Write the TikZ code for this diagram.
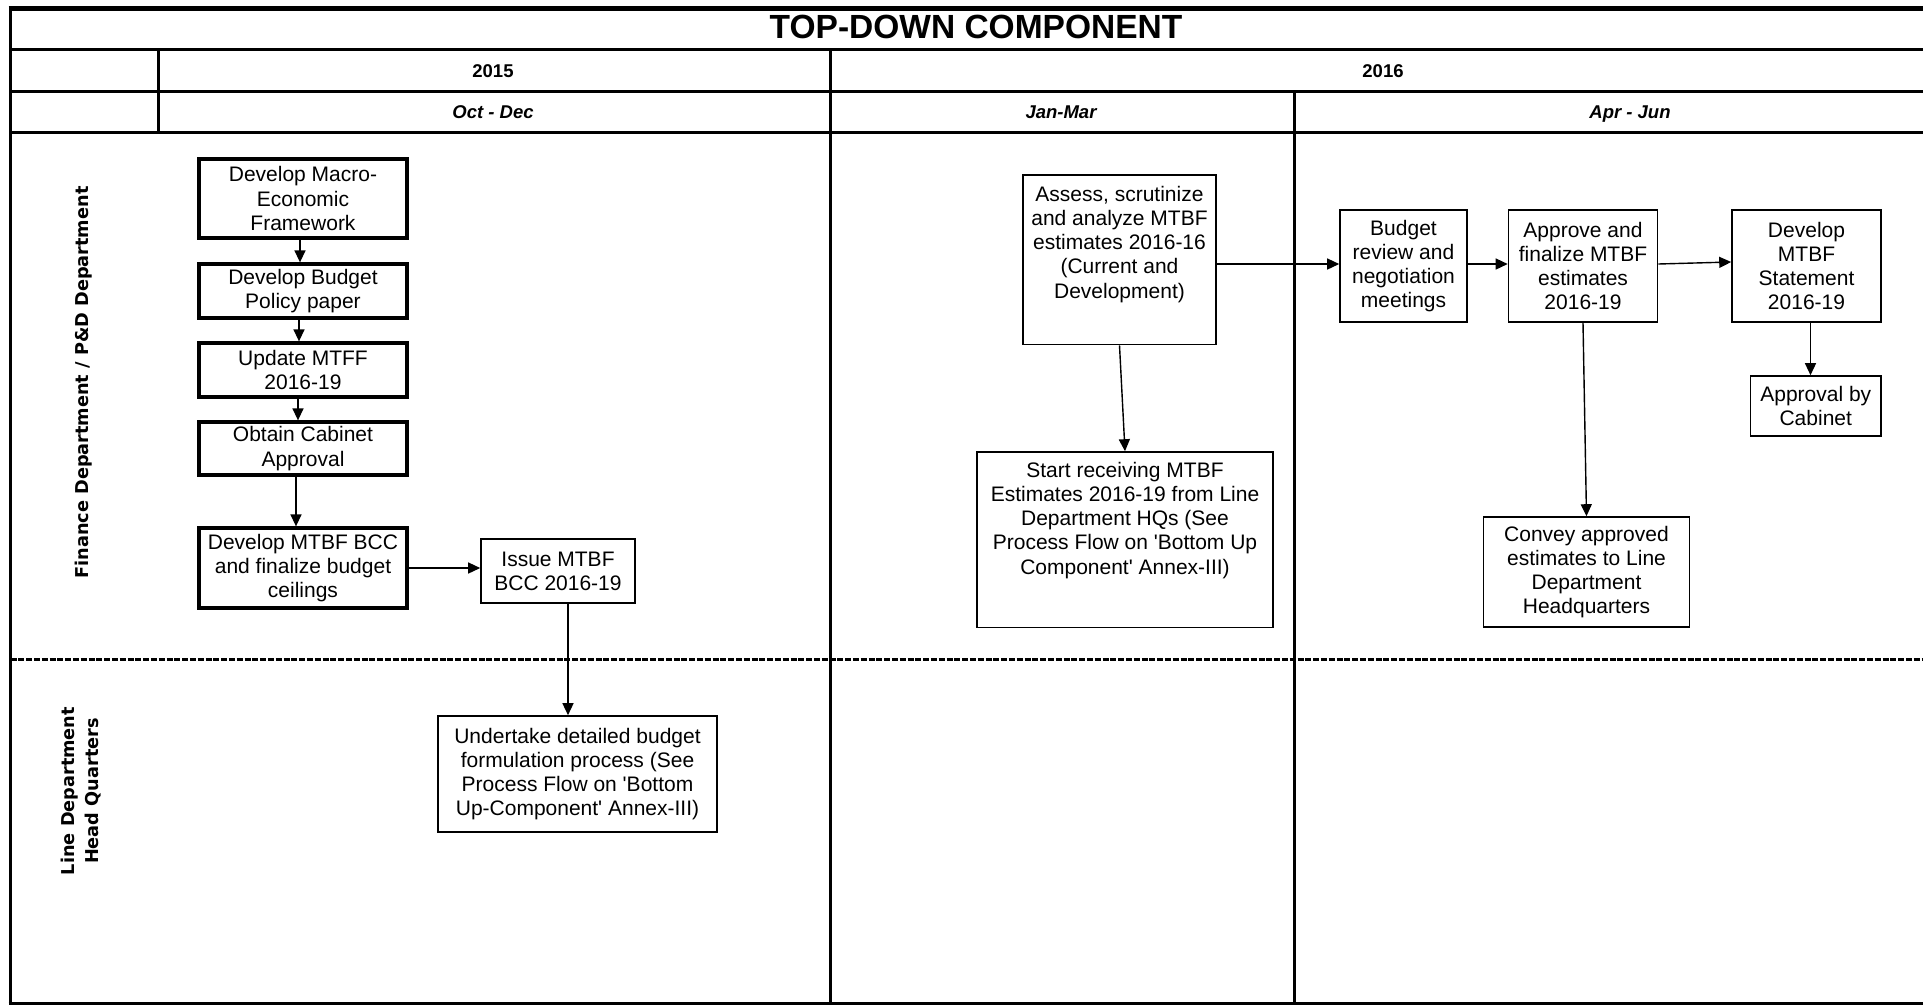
\documentclass[tikz,border=0pt]{standalone}
\usepackage{fontspec}
\setmainfont{Liberation Sans}
\newfontfamily\lanefamily{DejaVu Sans}
\usetikzlibrary{arrows.meta,calc}

\newcommand\stepfont{\fontsize{21}{24.2}\selectfont}
\newcommand\sq{\textquotesingle}

\tikzset{
  rule/.style={line width=2.6pt},
  lanesep/.style={line width=2.2pt, dash pattern=on 6pt off 1.8pt},
  titletxt/.style={inner sep=0pt, font=\fontsize{33.5}{38}\selectfont\bfseries},
  yeartxt/.style={inner sep=0pt, font=\fontsize{18.5}{21}\selectfont\bfseries},
  monthtxt/.style={inner sep=0pt, font=\fontsize{18.5}{21}\selectfont\bfseries\itshape},
  lanetxt/.style={inner sep=0pt, rotate=90, align=center,
    font=\lanefamily\fontsize{17.7}{23.5}\selectfont\bfseries},
  stepbox/.style={draw, line width=1.6pt, inner sep=0pt, align=center, font=\stepfont},
  heavybox/.style={stepbox, line width=3.3pt},
  flow/.style={-{Triangle[length=12pt,width=11pt]}, line width=1.4pt},
}

\begin{document}
\begin{tikzpicture}[x=1pt,y=-1pt]
\useasboundingbox (0,0) rectangle (1923,1005);

% outer frame (open on the right)
\draw[line width=4.7pt] (8.7,8.3) -- (1923,8.3);
\draw[line width=3.6pt] (10.5,6) -- (10.5,1005);
\draw[line width=3.6pt] (8.7,1003.3) -- (1923,1003.3);

% header rules and column dividers
\draw[rule] (10.5,49.5) -- (1923,49.5);
\draw[rule] (10.5,91.4) -- (1923,91.4);
\draw[rule] (10.5,132.2) -- (1923,132.2);
\draw[rule] (158.2,49.5) -- (158.2,132.2);
\draw[rule] (830.3,49.5) -- (830.3,1003.3);
\draw[rule] (1294.3,91.4) -- (1294.3,1003.3);

% swimlane separator
\draw[lanesep] (10.5,659.5) -- (1923,659.5);

% header texts
\node[titletxt, anchor=base] (title) at (976,38.5) {TOP-DOWN COMPONENT};
\node[yeartxt, anchor=base] (y2015) at (493,77) {2015};
\node[yeartxt, anchor=base] (y2016) at (1383,77) {2016};
\node[monthtxt, anchor=base] (octdec) at (493,118.5) {Oct - Dec};
\node[monthtxt, anchor=base] (janmar) at (1061,118.5) {Jan-Mar};
\node[monthtxt, anchor=base] (aprjun) at (1630,118.5) {Apr - Jun};

% lane labels
\node[lanetxt] (finlane) at (84,382.5) {Finance Department / P\&D Department};
\node[lanetxt] (linelane) at (81,791) {Line Department\\Head Quarters};

% Oct - Dec steps
\node[heavybox, minimum width=208, minimum height=79] (b1) at (303,198.5)
  {Develop Macro-\\Economic\\Framework};
\node[heavybox, minimum width=208, minimum height=54] (b2) at (303,291)
  {Develop Budget\\Policy paper};
\node[heavybox, minimum width=208, minimum height=54] (b3) at (303,370)
  {Update MTFF\\2016-19};
\node[heavybox, minimum width=208, minimum height=53] (b4) at (303,448.5)
  {Obtain Cabinet\\Approval};
\node[heavybox, minimum width=208, minimum height=80] (b5) at (303,568)
  {Develop MTBF BCC\\and finalize budget\\ceilings};
\node[stepbox, minimum width=154, minimum height=64] (b6) at (558,571)
  {Issue MTBF\\BCC 2016-19};
\node[stepbox, minimum width=279, minimum height=116] (b7) at (577.5,774)
  {Undertake detailed budget\\formulation process (See\\Process Flow on \sq Bottom\\Up-Component\sq\ Annex-III)};

% Jan - Mar steps
\node[stepbox] (b8) at (1119.5,259.75)
  {\parbox[c][169.5pt][t]{193pt}{\centering\vspace*{11pt}Assess, scrutinize\\and analyze MTBF\\estimates 2016-16\\(Current and\\Development)}};
\node[stepbox] (b9) at (1125,539.75)
  {\parbox[c][175.5pt][t]{296pt}{\centering\vspace*{10pt}Start receiving MTBF\\Estimates 2016-19 from Line\\Department HQs (See\\Process Flow on \sq Bottom Up\\Component\sq\ Annex-III)}};

% Apr - Jun steps
\node[stepbox, minimum width=127, minimum height=112] (b10) at (1403.5,266)
  {Budget\\review and\\negotiation\\meetings};
\node[stepbox, minimum width=149, minimum height=112] (b11) at (1583,266)
  {Approve and\\finalize MTBF\\estimates\\2016-19};
\node[stepbox, minimum width=149, minimum height=112] (b12) at (1806.5,266)
  {Develop\\MTBF\\Statement\\2016-19};
\node[stepbox, minimum width=130.5, minimum height=60] (b13) at (1815.75,406)
  {Approval by\\Cabinet};
\node[stepbox, minimum width=206, minimum height=110] (b14) at (1586.5,572)
  {Convey approved\\estimates to Line\\Department\\Headquarters};

% connectors
\draw[flow] ($(b1.south)+(-3,0)$) -- ($(b2.north)+(-3,0)$);
\draw[flow] ($(b2.south)+(-4,0)$) -- ($(b3.north)+(-4,0)$);
\draw[flow] ($(b3.south)+(-5,0)$) -- ($(b4.north)+(-5,0)$);
\draw[flow] ($(b4.south)+(-7,0)$) -- ($(b5.north)+(-7,0)$);
\draw[flow] (b5.east) -- (b5.east -| b6.west);
\draw[flow] ($(b6.south)+(10,0)$) -- ($(b6.south |- b7.north)+(10,0)$);
\draw[flow] (b8.south) -- (b9.north);
\draw[flow] ($(b10.west -| b8.east)+(0,-2)$) -- ($(b10.west)+(0,-2)$);
\draw[flow] ($(b10.east)+(0,-2)$) -- ($(b11.west)+(0,-2)$);
\draw[flow] ($(b11.east)+(0,-2)$) -- ($(b12.west)+(0,-4)$);
\draw[flow] (b11.south) -- (b14.north);
\draw[flow] ($(b12.south)+(4,0)$) -- ($(b12.south |- b13.north)+(4,0)$);
\end{tikzpicture}
\end{document}
